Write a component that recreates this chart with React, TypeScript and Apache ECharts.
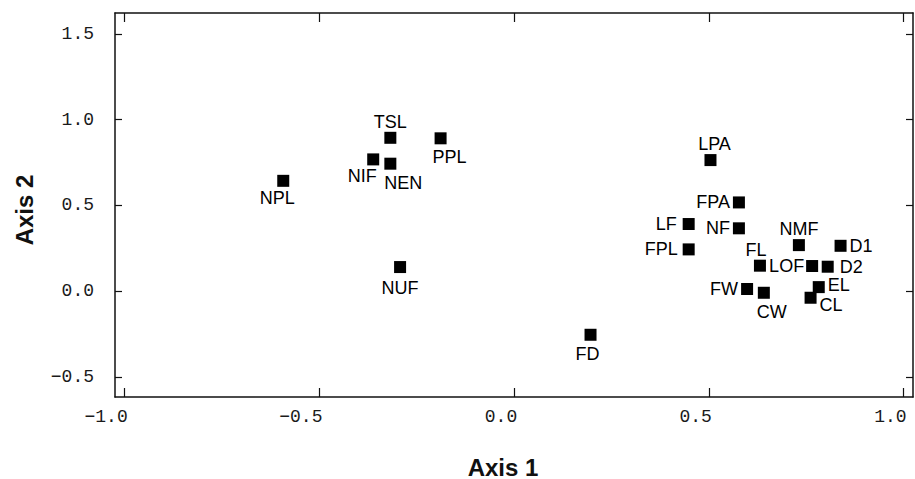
import React, { useEffect, useRef } from "react";
import * as echarts from "echarts";

// Site codes and their ordination scores
const names = ["TSL", "PPL", "NIF", "NEN", "NPL", "NUF", "LPA", "FPA", "LF", "NF", "FPL", "NMF", "D1", "FL", "LOF", "D2", "EL", "CL", "FW", "CW", "FD"];
const axis1 = [-0.318, -0.189, -0.362, -0.318, -0.593, -0.293, 0.504, 0.577, 0.448, 0.577, 0.448, 0.731, 0.838, 0.631, 0.765, 0.805, 0.782, 0.761, 0.598, 0.641, 0.196];
const axis2 = [0.894, 0.891, 0.768, 0.743, 0.643, 0.14, 0.764, 0.517, 0.391, 0.366, 0.243, 0.268, 0.264, 0.148, 0.146, 0.142, 0.023, -0.039, 0.012, -0.01, -0.255];

const xTicks = [-1.0, -0.5, 0.0, 0.5, 1.0];
const yTicks = [-0.5, 0.0, 0.5, 1.0, 1.5];

// label placement (layout only)
const labelPlacement: Record<string, { pos: string; off?: [number, number] }> = {
  TSL: { pos: "top" },
  PPL: { pos: "bottom", off: [9, 0] },
  NIF: { pos: "bottom", off: [-11, -2] },
  NEN: { pos: "bottom", off: [13, 0] },
  NPL: { pos: "bottom", off: [-6, -2] },
  NUF: { pos: "bottom", off: [0, 2] },
  LPA: { pos: "top", off: [4, 0] },
  FPA: { pos: "left" },
  LF: { pos: "left", off: [-3, 0] },
  NF: { pos: "left" },
  FPL: { pos: "left", off: [-2, 0] },
  NMF: { pos: "top" },
  D1: { pos: "right" },
  FL: { pos: "top", off: [-4, 0] },
  LOF: { pos: "left", off: [1, 0] },
  D2: { pos: "right", off: [3, 0] },
  EL: { pos: "right", off: [0, -2] },
  CL: { pos: "right", off: [0, 7] },
  FW: { pos: "left" },
  CW: { pos: "bottom", off: [8, 0] },
  FD: { pos: "bottom", off: [-3, 0] },
};

const fmt = (v: number) => {
  const s = Math.abs(v).toFixed(1);
  return v < -1e-9 ? "\u2212" + s : s;
};

export default function App() {
  const ref = useRef<HTMLDivElement>(null);
  useEffect(() => {
    if (!ref.current) return;
    const chart = echarts.init(ref.current, undefined, { renderer: "svg" });
    const tickFont = { fontFamily: "Liberation Mono", fontSize: 18, color: "#1a1a1a" };
    const nameFont = { fontFamily: "Liberation Sans", fontSize: 24, fontWeight: "bold" as const, color: "#111" };
    const lineStyle = { color: "#111", width: 1.5 };
    const xMin = -1.025, xMax = 1.024, yMin = -0.618, yMax = 1.622;
    const data = names.map((n, i) => {
      const p = labelPlacement[n];
      const distance = p.pos === "top" ? 1 : p.pos === "bottom" ? 4 : 3;
      return {
        name: n,
        value: [axis1[i], axis2[i]],
        label: { show: true, position: p.pos, distance, offset: p.off || [0, 0] },
      };
    });
    chart.setOption({
      animation: false,
      backgroundColor: "#fff",
      grid: { left: 115, right: 2, top: 13, bottom: 82, outerBoundsMode: "none" },
      xAxis: [
        {
          type: "value",
          position: "bottom",
          min: xMin,
          max: xMax,
          name: "Axis 1",
          nameLocation: "middle",
          nameGap: 58,
          nameTextStyle: { ...nameFont, padding: [0, 22, 0, 0] },
          axisLine: { show: true, onZero: false, lineStyle },
          axisTick: { show: true, inside: true, length: 9, customValues: xTicks, lineStyle: { color: "#111", width: 1.2 } },
          axisLabel: { ...tickFont, customValues: xTicks, formatter: fmt, align: "right", padding: [0, -3, 0, 0], margin: 11 },
          splitLine: { show: false },
        },
        {
          type: "value",
          position: "top",
          min: xMin,
          max: xMax,
          axisLine: { show: true, onZero: false, lineStyle },
          axisTick: { show: true, inside: true, length: 9, customValues: xTicks, lineStyle: { color: "#111", width: 1.2 } },
          axisLabel: { show: false },
          splitLine: { show: false },
        },
      ],
      yAxis: [
        {
          type: "value",
          position: "left",
          min: yMin,
          max: yMax,
          name: "Axis 2",
          nameLocation: "middle",
          nameGap: 79,
          nameTextStyle: { ...nameFont, padding: [0, 10, 0, 0] },
          axisLine: { show: true, onZero: false, lineStyle },
          axisTick: { show: true, inside: true, length: 7, customValues: yTicks, lineStyle: { color: "#111", width: 1.2 } },
          axisLabel: { ...tickFont, customValues: yTicks, formatter: fmt, margin: 21 },
          splitLine: { show: false },
        },
        {
          type: "value",
          position: "right",
          min: yMin,
          max: yMax,
          axisLine: { show: true, onZero: false, lineStyle },
          axisTick: { show: true, inside: true, length: 7, customValues: yTicks, lineStyle: { color: "#111", width: 1.2 } },
          axisLabel: { show: false },
          splitLine: { show: false },
        },
      ],
      series: [
        {
          type: "scatter",
          xAxisIndex: 0,
          yAxisIndex: 0,
          symbol: "rect",
          symbolSize: 12,
          itemStyle: { color: "#000", opacity: 1 },
          label: {
            show: true,
            formatter: "{b}",
            fontFamily: "Liberation Sans",
            fontSize: 18,
            color: "#000",
          },
          data,
        },
      ],
    });
    return () => chart.dispose();
  }, []);
  return <div ref={ref} style={{ position: "fixed", left: 0, top: 0, width: 915, height: 479, background: "#fff" }} />;
}
